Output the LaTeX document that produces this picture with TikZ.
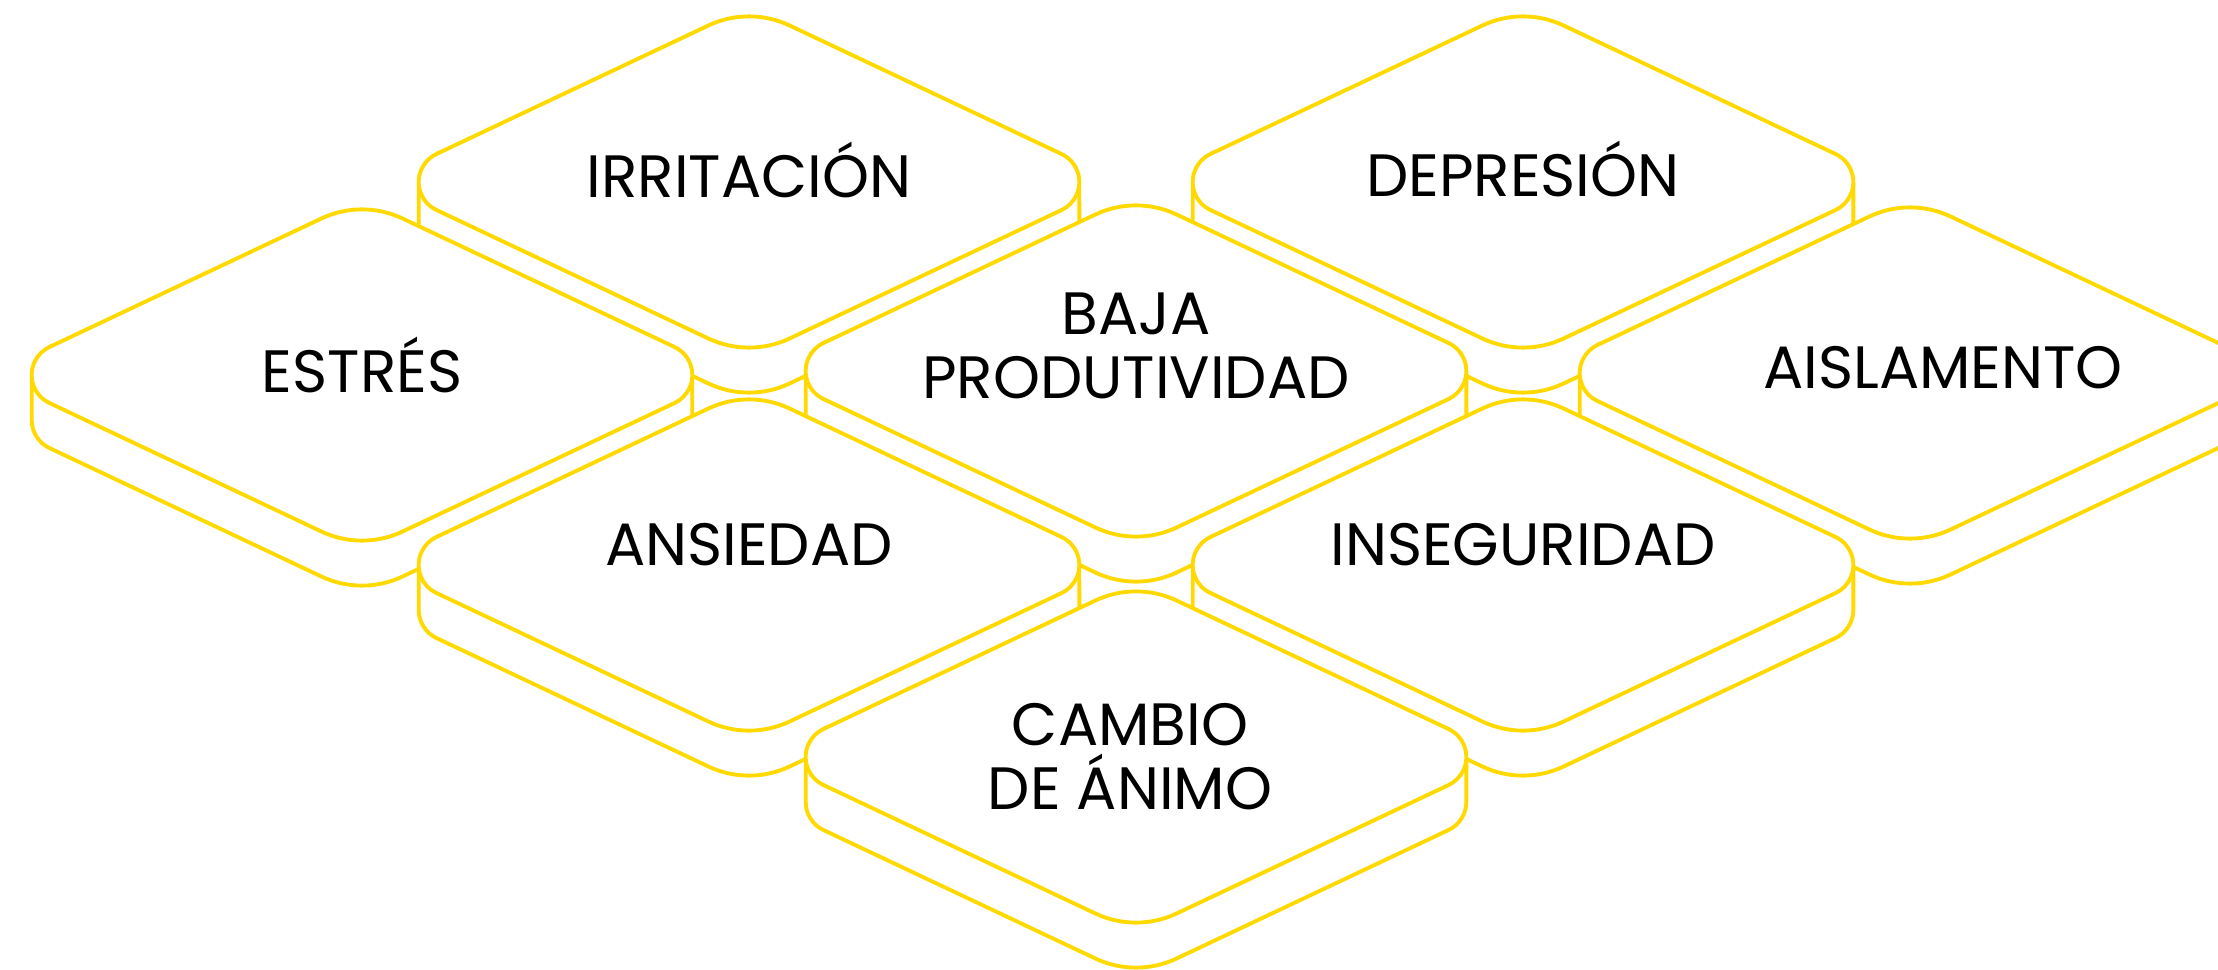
\documentclass[tikz,border=0pt]{standalone}
\usepackage{fontspec}
\setmainfont{Poppins}
\definecolor{tileyellow}{RGB}{255,217,0}

\begin{document}
\begin{tikzpicture}[x=0.01cm,y=0.01cm,line width=1.1pt,
  rim/.style={draw=tileyellow,fill=white},
  tile/.pic={
    \draw[rim] (-330.3,0) -- (-330.3,-45) arc[start angle=180,end angle=244.7,radius=31]
      -- (-40.6,-201.5) arc[start angle=-115.3,end angle=-64.7,radius=95]
      -- (312.55,-73) arc[start angle=-64.7,end angle=0,radius=31] -- (330.3,0);
    \draw[rim] (-312.55,28) -- (-40.6,156.5) arc[start angle=115.3,end angle=64.7,radius=95]
      -- (312.55,28) arc[start angle=64.7,end angle=-64.7,radius=31]
      -- (40.6,-156.5) arc[start angle=-64.7,end angle=-115.3,radius=95]
      -- (-312.55,-28) arc[start angle=244.7,end angle=115.3,radius=31] -- cycle;
  },
  lbl/.style={font=\fontsize{17pt}{18.2pt}\selectfont,align=center,text depth=0pt},
  word/.style={lbl,text height=4.17mm}]
  \useasboundingbox (0,0) rectangle (2218,-970);
  \clip (0,0) rectangle (2218,-970);

  \pic (irr) at (749,-182) {tile};
  \pic (dep) at (1523,-182) {tile};
  \pic (baj) at (1136,-371) {tile};
  \pic (ais) at (1910,-373) {tile};
  \pic (est) at (362,-375) {tile};
  \pic (ans) at (749,-565) {tile};
  \pic (ins) at (1523,-565) {tile};
  \pic (cam) at (1136,-757) {tile};

  \node[word] (irritacion) at (749,-177) {IRRITACIÓN};
  \node[word] (depresion) at (1523,-176) {DEPRESIÓN};
  \node[word] (estres) at (362,-372) {ESTRÉS};
  \node[lbl] (baja) at (1136,-346) {BAJA\\PRODUTIVIDAD};
  \node[word] (aislamento) at (1943,-368) {AISLAMENTO};
  \node[word] (ansiedad) at (749,-545) {ANSIEDAD};
  \node[word] (inseguridad) at (1523,-545) {INSEGURIDAD};
  \node[lbl] (cambio) at (1130,-756) {CAMBIO\\DE ÁNIMO};
\end{tikzpicture}
\end{document}
